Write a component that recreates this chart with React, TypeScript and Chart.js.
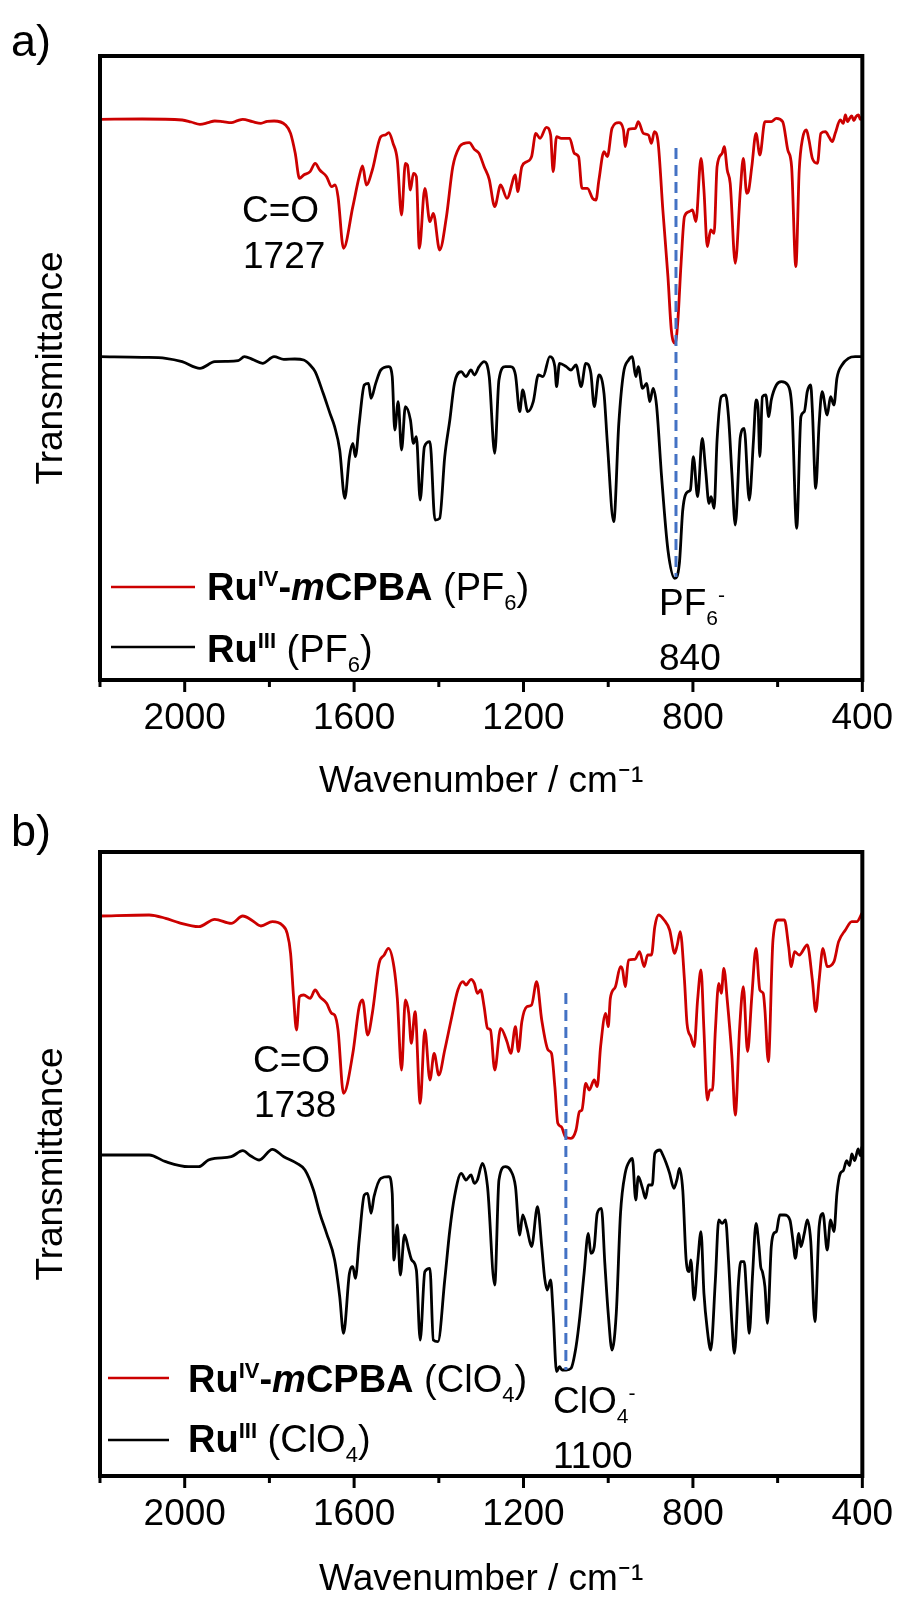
import React, { useEffect, useRef } from 'react';
import { Chart, registerables } from 'chart.js';

Chart.register(...registerables);

const FAMILY = '"Liberation Sans", Arial, Helvetica, sans-serif';

// ---- axis values ----
const wavenumberMin = 400;
const wavenumberMax = 2200;
const tickStep = 200;
const labelledTicks = [2000, 1600, 1200, 800, 400];

// ---- panel a: PF6 salts (wavenumber cm-1, transmittance a.u.) ----
const redA: [number, number][] = [
  [2200,168.2],[2100,168.3],[2006,168.0],[1985,167.4],[1964,166.7],[1945,167.2],[1929,167.7],[1910,167.5],[1890,167.2],[1875,167.8],
  [1863,168.2],[1840,167.5],[1820,167.0],[1805,167.6],[1789,167.7],[1762,166.5],[1750,164.0],[1739,158.0],[1729,150.5],[1719,151.5],
  [1704,152.5],[1692,155.0],[1681,153.0],[1665,151.0],[1653,148.0],[1645,148.5],[1638,145.0],[1625,129.5],[1603,142.0],[1588,151.0],
  [1580,154.2],[1571,148.5],[1557,153.0],[1537,163.0],[1526,163.5],[1518,164.2],[1508,161.0],[1498,156.0],[1488,139.5],[1479,155.0],
  [1474,154.5],[1467,147.0],[1460,152.0],[1453,151.0],[1446,129.5],[1433,147.5],[1421,137.5],[1413,140.0],[1398,129.0],[1382,139.0],
  [1367,154.0],[1351,160.0],[1340,161.0],[1328,161.2],[1316,159.2],[1305,158.0],[1293,154.0],[1281,150.2],[1268,142.0],[1254,148.5],
  [1239,144.5],[1219,151.5],[1214,146.5],[1204,154.0],[1192,155.5],[1181,157.0],[1171,164.0],[1161,162.5],[1146,165.8],[1136,163.5],
  [1130,152.5],[1122,163.0],[1111,162.5],[1091,162.5],[1080,158.0],[1070,157.0],[1062,147.5],[1049,147.5],[1037,144.5],[1029,144.0],
  [1022,150.0],[1010,158.5],[1002,157.0],[991,165.5],[975,167.2],[964,165.0],[960,160.0],[952,165.2],[936,165.5],[929,167.5],
  [917,164.0],[905,163.5],[898,161.0],[891,164.5],[882,161.0],[871,141.0],[859,121.0],[851,105.0],[842,101.0],[836,107.0],
  [828,125.0],[820,139.0],[809,140.5],[801,141.0],[793,137.5],[781,156.5],[774,147.0],[766,130.0],[758,135.0],[750,134.0],
  [743,154.0],[731,158.0],[726,160.0],[719,153.0],[712,149.0],[700,125.0],[688,147.0],[681,156.5],[673,146.0],[669,146.5],
  [661,154.0],[651,164.0],[642,157.5],[630,167.5],[615,167.5],[603,168.5],[588,167.5],[576,159.0],[567,154.0],[557,124.0],
  [549,153.0],[541,162.5],[532,165.0],[526,162.0],[518,156.5],[506,155.0],[498,164.0],[487,164.5],[479,163.0],[471,161.5],
  [464,164.0],[452,168.0],[445,167.0],[440,169.5],[435,167.5],[430,168.5],[425,169.2],[420,167.8],[415,169.0],[409,169.5],
  [405,168.2],[400,169.0],
];

const blackA: [number, number][] = [
  [2200,97.0],[2100,96.8],[2045,96.5],[2006,95.5],[1964,93.5],[1929,95.5],[1900,95.6],[1874,95.8],[1859,97.0],[1840,96.2],
  [1816,95.0],[1789,97.0],[1766,96.2],[1740,96.3],[1719,96.0],[1704,94.5],[1692,92.5],[1673,86.0],[1657,80.0],[1646,76.0],
  [1634,69.0],[1622,54.5],[1611,67.0],[1603,71.0],[1597,67.0],[1588,77.0],[1576,88.5],[1566,89.0],[1560,84.5],[1549,89.0],
  [1537,93.0],[1518,94.0],[1510,91.0],[1504,75.0],[1496,83.5],[1488,69.0],[1479,82.0],[1467,78.0],[1460,71.0],[1453,73.0],
  [1444,54.0],[1434,70.0],[1421,71.5],[1409,48.0],[1398,48.5],[1386,67.0],[1374,78.0],[1363,89.0],[1347,92.5],[1336,91.0],
  [1324,93.0],[1316,91.5],[1305,94.0],[1293,95.5],[1281,91.0],[1268,68.0],[1258,90.0],[1243,94.0],[1231,94.0],[1219,91.5],
  [1209,80.5],[1202,87.0],[1190,80.5],[1177,83.5],[1165,91.5],[1154,91.0],[1138,97.0],[1126,94.0],[1122,88.0],[1115,95.0],
  [1099,94.0],[1088,93.0],[1076,94.5],[1064,88.0],[1053,95.0],[1041,92.0],[1033,82.0],[1022,91.5],[1010,86.0],[1002,71.0],
  [987,47.5],[975,77.0],[964,92.0],[952,96.0],[943,97.0],[935,91.0],[929,94.0],[919,87.5],[909,89.0],[902,83.5],
  [894,87.5],[886,82.5],[874,61.0],[859,39.0],[843,30.5],[832,35.0],[824,51.0],[812,56.5],[806,57.0],[799,67.0],
  [789,55.0],[778,72.5],[770,63.0],[762,53.0],[757,55.0],[750,51.5],[743,72.0],[733,85.0],[723,85.5],[716,79.0],
  [708,62.0],[700,46.5],[688,73.0],[679,75.5],[667,54.0],[657,72.0],[651,84.0],[646,81.0],[642,67.0],[636,85.0],
  [628,85.5],[621,79.0],[615,84.0],[603,88.5],[591,89.5],[576,88.5],[566,81.0],[555,45.5],[545,79.0],[537,80.5],
  [530,86.5],[522,88.5],[518,81.0],[510,57.5],[502,77.0],[495,86.5],[483,79.5],[475,85.0],[467,82.5],[460,90.5],
  [448,94.5],[433,96.5],[417,97.0],[401,97.0],
];

// ---- panel b: ClO4 salts ----
const redB: [number, number][] = [
  [2200,167.4],[2084,167.7],[2045,166.7],[2014,165.4],[1967,164.2],[1929,166.4],[1890,165.2],[1863,167.4],[1840,166.0],[1820,164.4],
  [1793,165.7],[1770,164.7],[1758,162.2],[1750,156.2],[1743,143.2],[1736,133.2],[1729,143.2],[1719,143.7],[1704,142.7],[1692,145.2],
  [1681,143.2],[1665,141.2],[1653,138.2],[1646,137.7],[1638,133.2],[1625,114.2],[1603,126.2],[1588,140.2],[1580,142.2],[1568,131.7],
  [1557,138.2],[1541,153.2],[1529,155.7],[1519,157.7],[1506,152.2],[1498,142.7],[1488,121.2],[1479,142.2],[1471,138.2],[1465,129.2],
  [1456,138.7],[1444,111.2],[1433,133.2],[1421,118.2],[1411,126.2],[1400,119.7],[1386,127.2],[1371,136.2],[1355,145.2],[1343,147.7],
  [1336,146.7],[1324,148.4],[1316,147.2],[1309,144.2],[1301,145.2],[1293,140.2],[1285,133.7],[1278,133.2],[1268,121.2],[1254,133.7],
  [1239,129.7],[1230,126.2],[1219,134.2],[1212,126.7],[1204,135.7],[1192,140.2],[1181,140.7],[1169,147.7],[1157,136.2],[1142,127.2],
  [1134,126.2],[1126,116.2],[1119,105.2],[1111,104.2],[1101,101.2],[1088,100.7],[1076,103.2],[1068,108.7],[1062,109.2],[1053,117.2],
  [1045,115.2],[1033,118.2],[1026,116.2],[1018,128.2],[1006,138.2],[1000,134.2],[995,142.7],[983,146.2],[971,152.2],[966,151.2],
  [960,146.2],[952,154.2],[937,154.4],[926,156.7],[915,152.2],[907,155.7],[898,155.7],[890,164.2],[881,167.7],[868,166.2],
  [855,163.2],[843,156.2],[837,158.7],[830,162.7],[820,148.2],[814,135.2],[805,131.2],[797,128.2],[789,142.2],[781,151.2],
  [774,133.2],[766,112.2],[760,115.2],[754,115.2],[747,133.2],[739,147.2],[733,144.2],[727,151.7],[719,142.2],[708,125.2],
  [700,107.7],[690,133.2],[681,146.2],[671,126.7],[661,143.2],[651,157.7],[642,145.2],[634,144.2],[630,139.2],[622,123.7],
  [611,160.2],[599,166.2],[584,166.2],[574,158.2],[568,152.2],[560,156.7],[549,155.7],[530,158.7],[518,148.2],[510,138.7],
  [502,148.2],[493,157.7],[483,152.2],[467,153.7],[456,159.7],[440,163.2],[425,165.7],[413,165.7],[401,168.2],
];

const blackB: [number, number][] = [
  [2200,95.7],[2084,95.7],[2045,93.7],[1991,92.2],[1967,92.2],[1944,94.2],[1929,94.7],[1890,95.2],[1863,97.0],[1845,95.5],
  [1824,94.2],[1793,97.4],[1766,95.2],[1735,93.2],[1716,91.2],[1696,85.2],[1681,78.2],[1665,72.2],[1646,64.2],[1634,53.2],
  [1625,42.2],[1611,60.2],[1603,62.2],[1597,58.7],[1588,70.2],[1576,83.7],[1568,84.2],[1560,78.2],[1553,83.2],[1537,88.7],
  [1518,89.2],[1510,84.2],[1506,64.2],[1498,74.7],[1491,59.7],[1481,71.7],[1471,67.2],[1464,64.2],[1453,61.2],[1444,40.2],
  [1433,60.7],[1421,61.7],[1413,40.2],[1402,39.7],[1386,58.2],[1374,73.2],[1363,83.2],[1347,90.2],[1336,88.2],[1324,89.7],
  [1316,87.2],[1309,88.2],[1297,93.2],[1285,86.2],[1268,56.7],[1258,88.2],[1243,92.2],[1231,91.2],[1219,86.2],[1209,71.7],
  [1202,77.7],[1192,73.7],[1181,68.2],[1167,80.2],[1157,68.2],[1150,58.7],[1144,55.2],[1136,58.2],[1130,48.2],[1122,30.7],
  [1115,32.2],[1109,31.2],[1099,31.2],[1088,31.7],[1076,38.2],[1067,47.2],[1057,60.2],[1047,72.2],[1041,66.2],[1033,68.2],
  [1026,78.2],[1016,79.7],[1008,63.2],[1000,48.2],[991,37.2],[981,48.2],[971,78.2],[960,90.2],[948,94.2],[943,94.7],
  [935,82.2],[929,89.2],[919,85.7],[912,82.7],[905,86.7],[896,86.7],[890,96.2],[878,97.2],[871,95.7],[863,93.2],
  [855,90.2],[845,85.7],[837,88.7],[832,91.7],[824,85.2],[816,64.2],[809,60.7],[805,64.2],[797,52.2],[789,63.2],
  [781,72.7],[774,54.2],[766,43.2],[758,37.2],[747,58.2],[739,76.2],[731,75.2],[723,76.2],[716,64.2],[708,45.2],
  [702,36.2],[692,58.2],[687,63.7],[679,63.7],[673,53.2],[667,42.2],[659,60.2],[651,75.2],[644,68.2],[640,62.2],
  [636,60.7],[630,56.2],[624,45.2],[615,68.2],[609,72.2],[603,72.7],[595,77.7],[584,77.7],[571,76.2],[564,70.2],
  [558,64.7],[550,72.2],[545,68.2],[537,72.2],[530,76.2],[522,70.2],[512,45.7],[502,74.2],[493,78.2],[483,67.2],
  [475,76.2],[467,72.7],[460,84.2],[452,90.2],[445,91.0],[437,94.0],[430,92.5],[425,96.0],[418,94.0],[410,97.5],
  [405,95.5],[401,98.2],
];

// marker lines: [wavenumber, top transmittance, bottom transmittance]
const markerA: [number, number, number] = [840, 159.6, 30.9];
const markerB: [number, number, number] = [1100, 144.3, 31.2];

type Seg = { t: string; bold?: boolean; italic?: boolean; sup?: boolean; sub?: boolean };

const legendRedA: Seg[] = [
  { t: 'Ru', bold: true }, { t: 'IV', bold: true, sup: true }, { t: '-', bold: true },
  { t: 'm', bold: true, italic: true }, { t: 'CPBA', bold: true }, { t: ' (PF' }, { t: '6', sub: true }, { t: ')' },
];
const legendBlackA: Seg[] = [
  { t: 'Ru', bold: true }, { t: 'III', bold: true, sup: true }, { t: ' (PF' }, { t: '6', sub: true }, { t: ')' },
];
const legendRedB: Seg[] = [
  { t: 'Ru', bold: true }, { t: 'IV', bold: true, sup: true }, { t: '-', bold: true },
  { t: 'm', bold: true, italic: true }, { t: 'CPBA', bold: true }, { t: ' (ClO' }, { t: '4', sub: true }, { t: ')' },
];
const legendBlackB: Seg[] = [
  { t: 'Ru', bold: true }, { t: 'III', bold: true, sup: true }, { t: ' (ClO' }, { t: '4', sub: true }, { t: ')' },
];
const anionA: Seg[] = [{ t: 'PF' }, { t: '6', sub: true }, { t: '-', sup: true }];
const anionB: Seg[] = [{ t: 'ClO' }, { t: '4', sub: true }, { t: '-', sup: true }];

interface PanelCfg {
  top: number;
  height: number;
  yMin: number;
  yMax: number;
  red: [number, number][];
  black: [number, number][];
  redName: string;
  blackName: string;
  marker: [number, number, number];
  letter: string;
  letterY: number;
  coLines: string[];
  coX: number;
  coY: number[];
  anion: Seg[];
  anionNumber: string;
  anionX: number;
  anionY: number[];
  legendLine: [number, number];
  legendTextX: number;
  legendRows: { segs: Seg[]; color: string; lineY: number; textY: number }[];
  titleY: number;
}

const AREA_TOP = 56;
const AREA_BOTTOM = 680;
const AREA_RIGHT = 874;
const AREA_LEFT = 100;

const panels: PanelCfg[] = [
  {
    top: 0, height: 810, yMin: 0, yMax: 187.2,
    red: redA, black: blackA, redName: 'RuIV-mCPBA (PF6)', blackName: 'RuIII (PF6)',
    marker: markerA, letter: 'a)', letterY: 56,
    coLines: ['C=O', '1727'], coX: 242, coY: [222, 268],
    anion: anionA, anionNumber: '840', anionX: 659, anionY: [615, 670],
    legendLine: [111, 195], legendTextX: 207,
    legendRows: [
      { segs: legendRedA, color: '#CC0000', lineY: 587, textY: 600 },
      { segs: legendBlackA, color: '#000000', lineY: 647, textY: 662 },
    ],
    titleY: 782,
  },
  {
    top: 796, height: 801, yMin: -0.6, yMax: 186.6,
    red: redB, black: blackB, redName: 'RuIV-mCPBA (ClO4)', blackName: 'RuIII (ClO4)',
    marker: markerB, letter: 'b)', letterY: 50,
    coLines: ['C=O', '1738'], coX: 253, coY: [276, 321],
    anion: anionB, anionNumber: '1100', anionX: 553, anionY: [617, 672],
    legendLine: [108, 169], legendTextX: 188,
    legendRows: [
      { segs: legendRedB, color: '#CC0000', lineY: 582, textY: 596 },
      { segs: legendBlackB, color: '#000000', lineY: 644, textY: 656 },
    ],
    titleY: 784,
  },
];

function drawRich(ctx: CanvasRenderingContext2D, x: number, y: number, segs: Seg[], size: number) {
  let cx = x;
  for (const s of segs) {
    const small = s.sup || s.sub;
    const fs = small ? Math.round(size * 0.58) : size;
    ctx.font = `${s.italic ? 'italic ' : ''}${s.bold ? 'bold ' : ''}${fs}px ${FAMILY}`;
    const dy = s.sup ? -size * 0.36 : s.sub ? size * 0.27 : 0;
    ctx.fillText(s.t, cx, y + dy);
    cx += ctx.measureText(s.t).width;
  }
}

function overlayPlugin(cfg: PanelCfg) {
  return {
    id: 'overlay',
    afterDatasetsDraw(chart: any) {
      const { ctx, chartArea: a } = chart;
      const xs = chart.scales.x;
      ctx.save();
      // frame
      ctx.strokeStyle = '#000';
      ctx.lineWidth = 4;
      ctx.strokeRect(a.left, a.top, a.right - a.left, a.bottom - a.top);
      // tick marks (outward)
      ctx.lineWidth = 3;
      for (let v = wavenumberMin; v <= wavenumberMax; v += tickStep) {
        const px = xs.getPixelForValue(v);
        const len = labelledTicks.includes(v) ? 12 : 7;
        ctx.beginPath();
        ctx.moveTo(px, a.bottom);
        ctx.lineTo(px, a.bottom + len);
        ctx.stroke();
      }
      ctx.fillStyle = '#000';
      ctx.textAlign = 'left';
      ctx.textBaseline = 'alphabetic';
      // panel letter
      ctx.font = `45px ${FAMILY}`;
      ctx.fillText(cfg.letter, 11, cfg.letterY);
      // C=O annotation
      ctx.font = `37px ${FAMILY}`;
      cfg.coLines.forEach((t, i) => ctx.fillText(t, cfg.coX + (i === 0 ? 0 : 1), cfg.coY[i]));
      // anion annotation
      drawRich(ctx, cfg.anionX, cfg.anionY[0], cfg.anion, 37);
      ctx.font = `37px ${FAMILY}`;
      ctx.fillText(cfg.anionNumber, cfg.anionX, cfg.anionY[1]);
      // legend
      for (const row of cfg.legendRows) {
        ctx.strokeStyle = row.color;
        ctx.lineWidth = 2.6;
        ctx.beginPath();
        ctx.moveTo(cfg.legendLine[0], row.lineY);
        ctx.lineTo(cfg.legendLine[1], row.lineY);
        ctx.stroke();
        ctx.fillStyle = '#000';
        drawRich(ctx, cfg.legendTextX, row.textY, row.segs, 38);
      }
      ctx.restore();
    },
  };
}

function Panel({ cfg }: { cfg: PanelCfg }) {
  const ref = useRef<HTMLCanvasElement | null>(null);
  useEffect(() => {
    if (!ref.current) return;
    const toXY = (arr: [number, number][]) => arr.map(([x, y]) => ({ x, y }));
    const chart = new Chart(ref.current, {
      type: 'line',
      data: {
        datasets: [
          {
            label: 'marker',
            data: [{ x: cfg.marker[0], y: cfg.marker[1] }, { x: cfg.marker[0], y: cfg.marker[2] }],
            borderColor: '#4472C4',
            borderWidth: 3,
            borderDash: [11, 6],
            pointRadius: 0,
          },
          {
            label: cfg.redName,
            data: toXY(cfg.red),
            borderColor: '#CC0000',
            borderWidth: 2.8,
            pointRadius: 0,
            cubicInterpolationMode: 'monotone',
          },
          {
            label: cfg.blackName,
            data: toXY(cfg.black),
            borderColor: '#000000',
            borderWidth: 2.8,
            pointRadius: 0,
            cubicInterpolationMode: 'monotone',
          },
        ],
      },
      options: {
        animation: false,
        responsive: false,
        maintainAspectRatio: false,
        events: [],
        layout: { padding: { top: AREA_TOP, right: 910 - AREA_RIGHT, left: 0, bottom: 0 } },
        plugins: { legend: { display: false }, tooltip: { enabled: false } },
        scales: {
          x: {
            type: 'linear',
            reverse: true,
            min: wavenumberMin,
            max: wavenumberMax,
            ticks: {
              stepSize: tickStep,
              autoSkip: false,
              maxRotation: 0,
              color: '#000',
              padding: 16.8,
              font: { size: 37, family: FAMILY, lineHeight: 1.2 },
              callback: (v: any) => (labelledTicks.includes(Number(v)) ? String(v) : ''),
            },
            grid: { display: false, drawTicks: false },
            border: { display: false },
            title: {
              display: true,
              text: 'Wavenumber / cm⁻¹',
              color: '#000',
              font: { size: 37, family: FAMILY, lineHeight: 1.0 },
              padding: { top: 0, bottom: cfg.height - cfg.titleY - 18.5 },
            },
            afterFit: (s: any) => { s.height = cfg.height - AREA_BOTTOM; },
          },
          y: {
            type: 'linear',
            min: cfg.yMin,
            max: cfg.yMax,
            ticks: { display: false },
            grid: { display: false },
            border: { display: false },
            title: {
              display: true,
              text: 'Transmittance',
              color: '#000',
              font: { size: 37, family: FAMILY, lineHeight: 1.2 },
              padding: { top: 30, bottom: 0 },
            },
            afterFit: (s: any) => { s.width = AREA_LEFT; },
          },
        },
      },
      plugins: [overlayPlugin(cfg)],
    } as any);
    return () => chart.destroy();
  }, [cfg]);
  return (
    <canvas
      ref={ref}
      width={910}
      height={cfg.height}
      style={{ position: 'absolute', left: 0, top: cfg.top, width: 910, height: cfg.height, display: 'block' }}
    />
  );
}

export default function App() {
  return (
    <div style={{ position: 'absolute', left: 0, top: 0, width: 910, height: 1597, background: '#fff', overflow: 'hidden' }}>
      {panels.map((p, i) => (
        <Panel key={i} cfg={p} />
      ))}
    </div>
  );
}
